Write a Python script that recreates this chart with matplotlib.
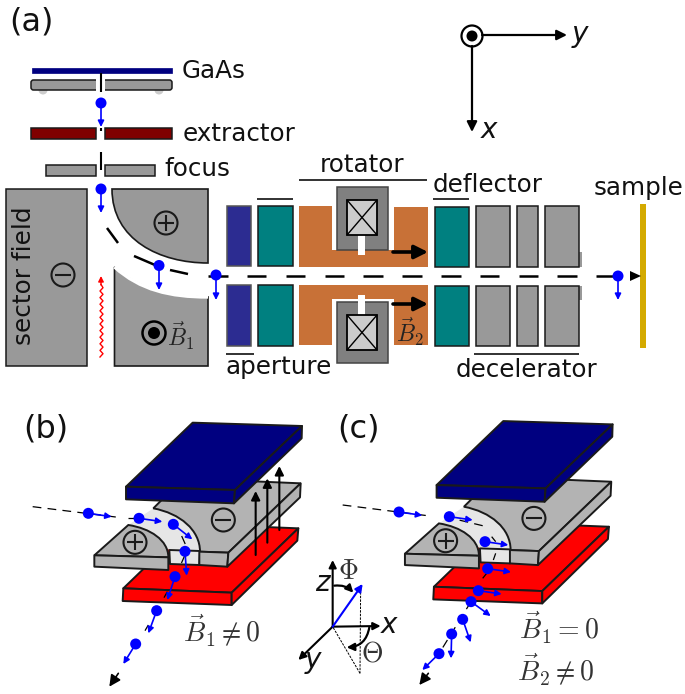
import numpy as np
import matplotlib
matplotlib.use('Agg')
import matplotlib.pyplot as plt
from matplotlib.patches import Polygon, Rectangle, Circle, PathPatch, FancyBboxPatch
from matplotlib.path import Path

plt.rcParams['font.family'] = ['DejaVu Sans']
plt.rcParams['mathtext.fontset'] = 'cm'

# --- Colours ---
NAVY = '#000080'
DARKRED = '#800000'
GREY = '#999999'
PLATE_GREY = '#b3b3b3'
LIGHT = '#e6e6e6'
TEAL = '#008080'
APERTURE = '#2c2c91'
ORANGE = '#c87137'
COIL = '#808080'
COIL_IN = '#cccccc'
GOLD = '#d4aa00'
BLUE = '#0000ff'
DARK = '#1a1a1a'

# --- Panel (a): parts as x0, x1, y0, y1 in pixels ---
GAAS = (32, 172, 68, 73)
EXTRACTOR = [(31, 96, 128, 139), (105, 172, 128, 139)]
FOCUS = [(46, 96, 165, 176), (105, 155, 165, 176)]
SECTOR = (6.5, 87, 189, 366)
APERTURES = [(227, 251, 206, 266), (227, 251, 285, 346)]
TEALS = [(258, 293, 206, 266), (258, 293, 285, 346),
         (435, 469, 207, 267), (435, 469, 286, 346)]
DECEL = [(476, 510, 206, 267), (517, 538, 206, 267), (545, 579, 206, 267),
         (476, 510, 286, 346), (517, 538, 286, 346), (545, 579, 286, 346)]
DECEL_TABS = [(579, 582, 252, 267), (579, 582, 286, 300)]
COILS = [(337, 388, 187, 250), (337, 388, 302, 363)]
COILS_IN = [(347, 377, 200, 235), (347, 377, 315, 350)]
COIL_SLOTS = [(358, 365, 235, 255), (358, 365, 295, 315)]
ORANGE_UP = [(299, 206), (332, 206), (332, 250), (394, 250), (394, 207), (428, 207), (428, 267), (299, 267)]
ORANGE_LOW = [(299, 285), (428, 285), (428, 345), (394, 345), (394, 299), (332, 299), (332, 345), (299, 345)]
SAMPLE = (640, 646, 204, 348)

RULES = [(299, 427, 180), (257, 293, 199), (226, 254, 354), (433, 469, 199), (474, 579, 354)]
LABELS_A = [('GaAs', 182, 71), ('extractor', 183, 134), ('focus', 164, 169), ('rotator', 320, 165),
            ('deflector', 433, 185), ('sample', 594, 188), ('aperture', 226, 367), ('decelerator', 456, 370)]

SPIN_DOTS_A = [(101, 103), (101, 189), (159, 265.5), (216, 275), (618, 276)]
SPIN_TIPS_A = [(101, 127), (101, 213), (159, 290), (216, 300), (618, 300)]
BEAM_A = [((107, 228), (118, 243)), ((134, 256), (155, 265)), ((170, 270), (188, 274)),
          ((208, 276), (228, 276)), ((247, 276), (266, 276)), ((286, 276), (305, 276)),
          ((325, 276), (344, 276)), ((363, 276), (383, 276)), ((402, 276), (422, 276)),
          ((441, 276), (461, 276)), ((480, 276), (499, 276)), ((519, 276), (538, 276)),
          ((557, 276), (577, 276)), ((596, 276), (613, 276))]
GUN_TICKS = [((101, 73), (101, 92)), ((101, 128), (101, 131)), ((101, 152), (101, 170))]

WAVE_Y = [357, 353.7, 350.4, 347.1, 343.8, 340.5, 337.2, 333.9, 330.6, 327.3, 324, 320.7, 317.4, 314.1,
          310.8, 307.5, 304.2, 300.9, 297.6, 294.3, 291, 287.7, 284.4]
WAVE_X = [100, 103, 100, 103, 100, 103, 100, 103, 100, 103, 100, 103, 100, 103,
          100, 103, 100, 103, 100, 103, 100, 103, 101]

# --- Panels (b), (c): 3D plates, in 3x crop units of panel (b) ---
BLUE_TOP = [(548, 38), (876, 48), (675, 240), (348, 230)]
BLUE_FRONT = [(348, 230), (675, 240), (672, 280), (348, 268)]
BLUE_SIDE = [(876, 48), (875, 85), (672, 280), (675, 240)]
RED_TOP = [(540, 342), (865, 355), (665, 548), (340, 535)]
RED_FRONT = [(340, 535), (665, 548), (665, 585), (338, 573)]
RED_SIDE = [(865, 355), (862, 392), (665, 585), (665, 548)]
NEG_FRONT = [(568, 425), (655, 428), (652, 470), (568, 465)]
NEG_SIDE = [(872, 220), (870, 262), (652, 470), (655, 428)]
SLOT_FRONT = [(478, 420), (570, 423), (568, 465), (480, 462)]
POS_FRONT = [(253, 436), (475, 442), (475, 480), (253, 470)]
NEG_CIRCLE = (640, 330)
POS_CIRCLE = (375, 397)

# spin dots and arrow tips, 3x crop units
DOTS_B = [(235, 310), (387, 325), (490, 343), (525, 424), (495, 500), (440, 602), (377, 702)]
TIPS_B = [(305, 320), (457, 335), (547, 388), (530, 497), (472, 570), (415, 670), (340, 762)]
DASH_B = [[(68, 290), (325, 322)], [(355, 325), (387, 325)], [(515, 378), (527, 405)],
          [(525, 435), (513, 462)], [(472, 545), (462, 563)], [(415, 645), (405, 662)]]
DOTS_C = [(327, 306), (478, 320), (585, 395), (593, 476), (565, 542), (543, 575), (518, 628), (485, 672), (447, 731)]
TIPS_C = [(397, 316), (548, 330), (655, 405), (663, 486), (635, 552), (602, 618), (542, 697), (483, 745), (397, 780)]
DASH_C = [[(158, 285), (420, 318)], [(465, 320), (590, 350)], [(605, 380), (617, 395)],
          [(617, 430), (610, 450)], [(590, 490), (578, 505)], [(543, 575), (447, 731)]]

# --- Set up a pixel canvas ---
fig = plt.figure(figsize=(6.85, 6.94), dpi=100)
ax = fig.add_axes([0, 0, 1, 1])
ax.set_xlim(0, 685)
ax.set_ylim(694, 0)
ax.axis('off')


def box(b, fc, ec=DARK, lw=1.1, z=2):
    ax.add_patch(Rectangle((b[0], b[2]), b[1] - b[0], b[3] - b[2], fc=fc, ec=ec, lw=lw, zorder=z))


def poly(pts, fc, ec=DARK, lw=1.4, z=2):
    ax.add_patch(Polygon(pts, closed=True, fc=fc, ec=ec, lw=lw, joinstyle='round', zorder=z))


def curve(verts, codes, fc, ec=DARK, lw=1.2, z=2):
    ax.add_patch(PathPatch(Path(verts, codes), fc=fc, ec=ec, lw=lw, zorder=z))


def line(p, q, c='black', lw=1.5, z=5, **kw):
    ax.plot([p[0], q[0]], [p[1], q[1]], color=c, lw=lw, zorder=z, solid_capstyle='butt', **kw)


def arrow(p, q, c=BLUE, lw=1.2, scale=9, z=6, style='-|>'):
    ax.annotate('', xy=q, xytext=p, zorder=z,
                arrowprops=dict(arrowstyle=style, color=c, lw=lw, mutation_scale=scale,
                                shrinkA=0, shrinkB=0))


def dot(p, r=5.5, z=7):
    ax.add_patch(Circle(p, r, fc=BLUE, ec='none', zorder=z))


def sign(p, r, plus, z=4, lw=1.5):
    ax.add_patch(Circle(p, r, fc='none', ec=DARK, lw=lw, zorder=z))
    a = r * 0.7
    line((p[0] - a, p[1]), (p[0] + a, p[1]), c=DARK, lw=lw, z=z)
    if plus:
        line((p[0], p[1] - a), (p[0], p[1] + a), c=DARK, lw=lw, z=z)


def crop(pts, x0, y0):
    return [(x0 + x / 3, y0 + y / 3) for x, y in pts]


# --- Panel (a) ---
box(GAAS, NAVY, ec=NAVY, lw=0.5)
ax.add_patch(Circle((43, 90), 4.5, fc='#cccccc', ec='none', zorder=1))
ax.add_patch(Circle((159, 90), 4.5, fc='#cccccc', ec='none', zorder=1))
ax.add_patch(FancyBboxPatch((33, 82), 137, 6, boxstyle='round,pad=2,rounding_size=2.5',
                            fc=GREY, ec=DARK, lw=1.1, zorder=2))
ax.add_patch(Rectangle((96, 78), 9, 14, fc='white', ec='none', zorder=3))
for b in EXTRACTOR:
    box(b, DARKRED)
for b in FOCUS:
    box(b, GREY)
for p, q in GUN_TICKS:
    line(p, q, lw=1.5)
box(SECTOR, GREY)

C4 = [Path.MOVETO, Path.CURVE4, Path.CURVE4, Path.CURVE4, Path.LINETO, Path.LINETO, Path.CLOSEPOLY]
curve([(112, 189), (112, 240), (160, 263), (208, 263), (208, 189), (112, 189), (112, 189)], C4, GREY)
curve([(114.5, 267), (140, 290), (170, 297), (208, 297), (208, 366), (114.5, 366), (114.5, 366)], C4, GREY)
ax.add_patch(PathPatch(Path([(114.5, 267), (140, 290), (170, 297), (208, 297)],
                            [Path.MOVETO, Path.CURVE4, Path.CURVE4, Path.CURVE4]),
                       fc='none', ec='white', lw=2.4, zorder=3))

for b in APERTURES:
    box(b, APERTURE, ec='#555555')
for b in TEALS:
    box(b, TEAL)
for b in DECEL_TABS:
    box(b, GREY, ec='none')
for b in DECEL:
    box(b, GREY)
poly(ORANGE_UP, ORANGE, ec='none', lw=0)
poly(ORANGE_LOW, ORANGE, ec='none', lw=0)
for b in COILS:
    box(b, COIL, ec='#444444')
for b in COIL_SLOTS:
    box(b, 'white', ec='none', z=3)
for b in COILS_IN:
    box(b, COIL_IN, ec='black', lw=1.3, z=4)
    line((b[0], b[2]), (b[1], b[3]), lw=1)
    line((b[0], b[3]), (b[1], b[2]), lw=1)
box(SAMPLE, GOLD, ec='none')

for x0, x1, y in RULES:
    line((x0, y), (x1, y), c='#222222', lw=1.3)
for s, x, y in LABELS_A:
    ax.text(x, y, s, fontsize=17.7, va='center', ha='left', color='#111111', zorder=8)

ax.text(9, 22, '(a)', fontsize=23, va='center', ha='left', color='#111111')
ax.text(24, 276, 'sector field', fontsize=17.8, rotation=90, va='center', ha='center', color='#111111')
sign((63, 275), 11.5, False)
sign((166, 223), 11.5, True)
ax.add_patch(Circle((154, 333), 11.5, fc='none', ec='black', lw=1.8, zorder=4))
ax.add_patch(Circle((154, 333), 6, fc='black', ec='none', zorder=4))
ax.text(181, 336, r'$\vec{B}_1$', fontsize=17, ha='center', va='center', color='#222222', zorder=8)
ax.text(410, 332, r'$\vec{B}_2$', fontsize=17, ha='center', va='center', color='#222222', zorder=8)

arrow((393, 252), (428, 252), c='black', lw=2.6, scale=20)
arrow((393, 304), (428, 304), c='black', lw=2.6, scale=20)

ax.plot(WAVE_X, WAVE_Y, color='red', lw=1.0, zorder=5)
arrow((101, 285), (101, 276), c='red', lw=1, scale=8)

for p, q in BEAM_A:
    line(p, q, lw=1.8)
poly([(630, 271), (641, 276), (630, 281)], 'black', ec='none', lw=0, z=6)
for p, q in zip(SPIN_DOTS_A, SPIN_TIPS_A):
    arrow(p, q)
    dot(p)

# top axes
ax.add_patch(Circle((472, 36), 10.5, fc='none', ec='black', lw=1.6))
ax.add_patch(Circle((472, 36), 5.5, fc='black', ec='none'))
arrow((482, 35), (567, 35), c='black', lw=1.6, scale=15)
arrow((472, 46), (472, 132), c='black', lw=1.6, scale=15)
ax.text(580, 34, 'y', fontsize=20, style='italic', ha='center', va='center', color='#111111')
ax.text(489, 130, 'x', fontsize=20, style='italic', ha='center', va='center', color='#111111')


# --- Panels (b) and (c) plates ---
def plates(x0, y0):
    p = lambda pts: crop(pts, x0, y0)
    poly(p(RED_TOP), 'red', z=10)
    poly(p(RED_FRONT), 'red', z=10)
    poly(p(RED_SIDE), 'red', z=10)

    # light slot between the electrodes, the grey tops cover its excess
    light = p([(430, 295), (570, 300), (570, 465), (480, 462), (478, 420), (355, 345)])
    poly(light, LIGHT, ec='none', lw=0, z=11)
    poly(p(SLOT_FRONT), LIGHT, z=11)

    # minus electrode top with curved edge, back edge hidden under the blue plate
    v = p([(430, 295), (520, 205), (872, 220), (655, 428), (570, 425), (570, 360), (510, 310), (430, 295), (430, 295)])
    curve(v, [Path.MOVETO, Path.LINETO, Path.LINETO, Path.LINETO, Path.LINETO, Path.CURVE4, Path.CURVE4, Path.CURVE4,
              Path.CLOSEPOLY], PLATE_GREY, lw=1.4, z=12)
    poly(p(NEG_FRONT), PLATE_GREY, z=12)
    poly(p(NEG_SIDE), PLATE_GREY, z=12)

    # plus electrode
    v = p([(355, 345), (420, 355), (475, 390), (475, 442), (253, 436), (355, 345)])
    curve(v, [Path.MOVETO, Path.CURVE4, Path.CURVE4, Path.CURVE4, Path.LINETO, Path.CLOSEPOLY],
          PLATE_GREY, lw=1.4, z=13)
    poly(p(POS_FRONT), PLATE_GREY, z=13)

    poly(p(BLUE_TOP), NAVY, z=14)
    poly(p(BLUE_FRONT), NAVY, z=14)
    poly(p(BLUE_SIDE), NAVY, z=14)

    sign(crop([NEG_CIRCLE], x0, y0)[0], 11.5, False, z=15)
    sign(crop([POS_CIRCLE], x0, y0)[0], 11.5, True, z=15)


B_X, B_Y = 10, 410
C_X, C_Y = 320.6, 408.4
plates(B_X, B_Y)
plates(C_X, C_Y)

# field arrows in (b)
for x, y0, y1 in [(737, 435, 243), (772, 398, 205), (808, 360, 168)]:
    p, q = crop([(x, y0), (x, y1)], B_X, B_Y)
    arrow(p, q, c='black', lw=1.5, scale=13, z=16)

# beams
for seg in DASH_B:
    (p, q) = crop(seg, B_X, B_Y)
    ax.plot([p[0], q[0]], [p[1], q[1]], color='black', lw=0.9, dashes=(7, 5), zorder=16)
for seg in DASH_C:
    (p, q) = crop(seg, 290, 410)
    ax.plot([p[0], q[0]], [p[1], q[1]], color='black', lw=0.9, dashes=(7, 5), zorder=16)
for pts, tips, x0 in [(DOTS_B, TIPS_B, B_X), (DOTS_C, TIPS_C, 290)]:
    for p, q in zip(crop(pts, x0, 410), crop(tips, x0, 410)):
        arrow(p, q, z=17)
        dot(p, r=5.5, z=18)
p, q = crop([(325, 790), (298, 830)], B_X, B_Y)
arrow(p, q, c='black', lw=1.2, scale=17, z=17)
p, q = crop([(415, 790), (388, 825)], 290, 410)
arrow(p, q, c='black', lw=1.2, scale=17, z=17)

ax.text(23, 429, '(b)', fontsize=23, va='center', ha='left', color='#111111')
ax.text(337, 429, '(c)', fontsize=23, va='center', ha='left', color='#111111')
ax.text(222, 630, r'$\vec{B}_1 \neq 0$', fontsize=20, ha='center', va='center', color='#333333')
ax.text(559, 628, r'$\vec{B}_1 = 0$', fontsize=20, ha='center', va='center', color='#333333')
ax.text(556, 669, r'$\vec{B}_2 \neq 0$', fontsize=20, ha='center', va='center', color='#333333')

# --- Coordinate triad ---
TRIAD_O = (128, 650)
TRIAD_Z = (128, 450)
TRIAD_X = (272, 648)
TRIAD_Y = (25, 750)
TRIAD_V = (218, 522)
o, z_, x_, y_, v_ = crop([TRIAD_O, TRIAD_Z, TRIAD_X, TRIAD_Y, TRIAD_V], 290, 410)
arrow(o, z_, c='black', lw=1.5, scale=11, z=6)
arrow(o, x_, c='black', lw=1.5, scale=11, z=6)
arrow(o, y_, c='black', lw=1.5, scale=11, z=6)
arrow(o, v_, c=BLUE, lw=1.5, scale=11, z=7)
a, b_, c_ = crop([(212, 525), (210, 790), (128, 650)], 290, 410)
ax.plot([a[0], b_[0]], [a[1], b_[1]], color='black', lw=0.7, dashes=(2.5, 1.2), zorder=4)
ax.plot([b_[0], c_[0]], [b_[1], c_[1]], color='black', lw=0.7, dashes=(2.5, 1.2), zorder=4)

p, q = crop([(133, 527), (190, 548)], 290, 410)
ax.annotate('', xy=q, xytext=p, arrowprops=dict(arrowstyle='-|>', color='black', lw=1.6, mutation_scale=11,
                                                shrinkA=0, shrinkB=0, connectionstyle='arc3,rad=-0.25'))
p, q = crop([(238, 652), (170, 712)], 290, 410)
ax.annotate('', xy=q, xytext=p, arrowprops=dict(arrowstyle='-|>', color='black', lw=1.6, mutation_scale=11,
                                                shrinkA=0, shrinkB=0, connectionstyle='arc3,rad=-0.4'))
for s, px, py, st in [('z', 97, 520, 'italic'), ('x', 298, 645, 'italic'), ('y', 70, 750, 'italic')]:
    (tx, ty), = crop([(px, py)], 290, 410)
    ax.text(tx, ty, s, fontsize=20, style=st, ha='center', va='center', color='#111111', zorder=8)
(tx, ty), = crop([(175, 482)], 290, 410)
ax.text(tx, ty, r'$\Phi$', fontsize=20, ha='center', va='center', color='#333333')
(tx, ty), = crop([(247, 732)], 290, 410)
ax.text(tx, ty, r'$\Theta$', fontsize=20, ha='center', va='center', color='#333333')

fig.savefig('out.png', dpi=100)
